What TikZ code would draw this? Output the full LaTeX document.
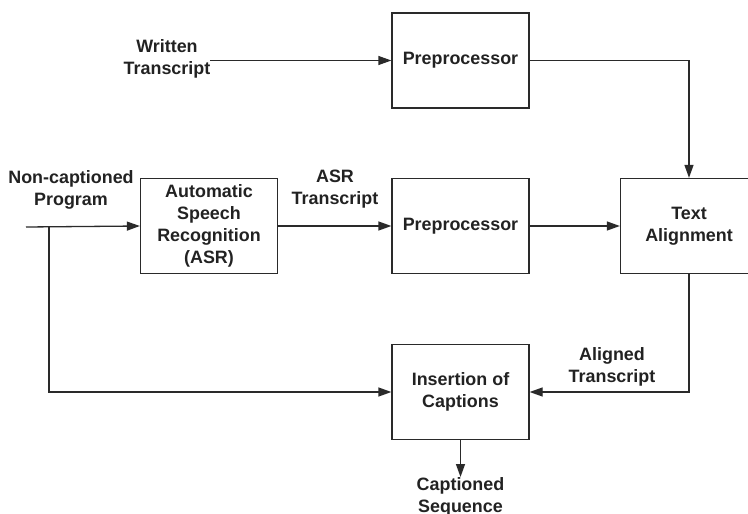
\documentclass[tikz,border=0pt]{standalone}
\usepackage{fontspec}
\setmainfont{Liberation Sans}
\usetikzlibrary{arrows.meta}
\definecolor{linec}{HTML}{2A2A2A}
\definecolor{txtc}{HTML}{222222}
\begin{document}
\begin{tikzpicture}[x=1pt,y=-1pt,
  blk/.style={draw=linec, line width=1.3pt, minimum width=137pt, minimum height=95pt,
    inner sep=0pt, align=center, text=txtc, font=\bfseries\fontsize{17.9}{22}\selectfont},
  lbl/.style={inner sep=0pt, align=center, text=txtc, font=\bfseries\fontsize{17.9}{22}\selectfont},
  arr/.style={draw=linec, line width=1.3pt, -{Triangle[length=13pt,width=9pt]}},
  ln/.style={draw=linec, line width=1.3pt}]
\clip (0,0) rectangle (748,514);
\fill[white] (0,0) rectangle (748,514);
% boxes
\node[blk] (pre1) at (460.5,60.5) {Preprocessor};
\node[blk] (asr) at (209,226) {Automatic\\Speech\\Recognition\\(ASR)};
\node[blk] (pre2) at (460.5,226) {Preprocessor};
\node[blk] (align) at (689,226) {Text\\Alignment};
\node[blk] (ins) at (460.5,392) {Insertion of\\Captions};
% labels
\node[lbl] (written) at (167,59) {Written\\Transcript};
\node[lbl] (noncap) at (71,190) {Non-captioned\\Program};
\node[lbl] (asrt) at (335,189) {ASR\\Transcript};
\node[lbl] (alig) at (612,367) {Aligned\\Transcript};
\node[lbl, anchor=north] (capseq) at (460.5,477) {Captioned\\Sequence};
% coordinates
\coordinate (src) at (26,227);
\coordinate (branch) at (49,227);
% connectors
\draw[arr] (written.east |- pre1.west) -- (pre1.west);
\draw[arr] (pre1.east) -| (align.north);
\draw[arr] (src) -- (asr.west);
\draw[arr] (branch) |- (ins.west);
\draw[arr] (asr.east) -- (pre2.west);
\draw[arr] (pre2.east) -- (align.west);
\draw[arr] (align.south) |- (ins.east);
\draw[arr] (ins.south) -- (capseq.north);
\end{tikzpicture}
\end{document}
